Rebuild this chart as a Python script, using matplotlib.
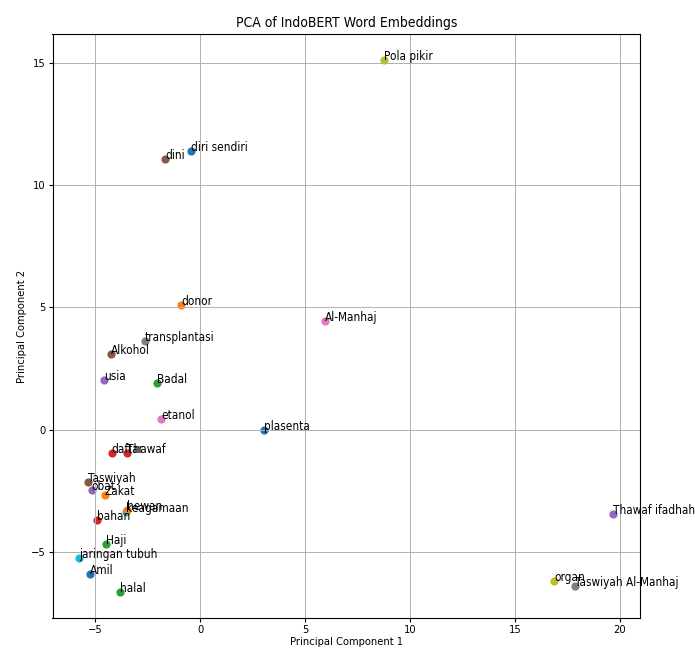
import matplotlib.pyplot as plt

plt.rcParams['font.family'] = ['DejaVu Sans']
plt.rcParams['font.stretch'] = 'condensed'

# Слова та координати PCA
words = ["Amil", "Zakat", "Haji", "Thawaf", "Thawaf ifadhah", "Taswiyah",
         "Al-Manhaj", "Taswiyah Al-Manhaj", "Pola pikir", "keagamaan",
         "diri sendiri", "donor", "Badal", "daftar", "usia", "dini",
         "etanol", "transplantasi", "organ", "jaringan tubuh",
         "plasenta", "hewan", "halal", "bahan", "obat", "Alkohol"]
pc1 = [-5.25, -4.55, -4.46, -3.49, 19.69, -5.33,
       5.95, 17.86, 8.75, -3.55,
       -0.44, -0.89, -2.05, -4.22, -4.59, -1.65,
       -1.84, -2.63, 16.86, -5.76,
       3.03, -3.46, -3.81, -4.93, -5.16, -4.24]
pc2 = [-5.91, -2.67, -4.68, -0.93, -3.45, -2.12,
       4.44, -6.39, 15.10, -3.38,
       11.39, 5.11, 1.93, -0.93, 2.05, 11.07,
       0.45, 3.61, -6.20, -5.23,
       0.01, -3.29, -6.62, -3.69, -2.46, 3.08]

fig = plt.figure(figsize=(6.95, 6.51), dpi=100)
ax = fig.add_axes([52.5 / 695, 32.7 / 651, 587.5 / 695, 584.6 / 651])

for w, x, y in zip(words, pc1, pc2):
    ax.scatter(x, y, s=24)
    ax.text(x, y, w, fontsize=8.5)

ax.set_title('PCA of IndoBERT Word Embeddings', fontsize=10, pad=5)
ax.set_xlabel('Principal Component 1', fontsize=8, labelpad=1)
ax.set_ylabel('Principal Component 2', fontsize=8, labelpad=3)
ax.tick_params(labelsize=8, length=3, pad=2)
ax.grid(True, linewidth=0.7)

fig.savefig('out.png', dpi=100)
